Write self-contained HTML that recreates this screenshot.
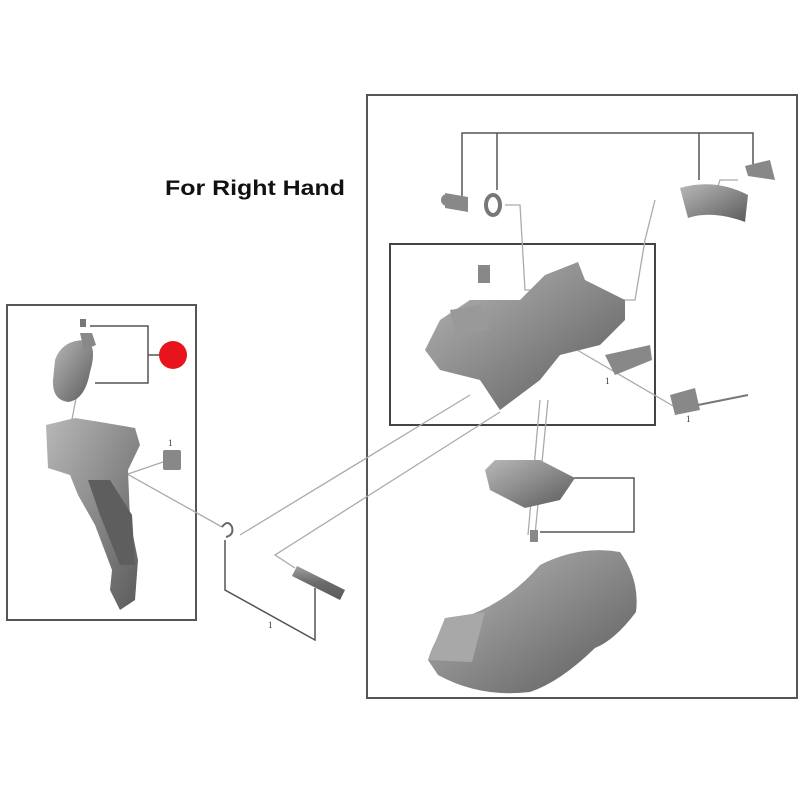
<!DOCTYPE html>
<html><head><meta charset="utf-8"><style>html,body{margin:0;padding:0;background:#fff}svg{display:block}</style></head>
<body>
<svg width="800" height="800" viewBox="0 0 800 800" xmlns="http://www.w3.org/2000/svg">
<defs>
<linearGradient id="g" x1="0" y1="0" x2="1" y2="1"><stop offset="0" stop-color="#b8b8b8"/><stop offset="0.5" stop-color="#8a8a8a"/><stop offset="1" stop-color="#5a5a5a"/></linearGradient>
<linearGradient id="g2" x1="0" y1="0" x2="0" y2="1"><stop offset="0" stop-color="#a0a0a0"/><stop offset="0.5" stop-color="#6a6a6a"/><stop offset="1" stop-color="#5a5a5a"/></linearGradient>
</defs>
<text x="165" y="195" font-family="Liberation Sans, sans-serif" font-weight="bold" font-size="21" fill="#111" textLength="180" lengthAdjust="spacingAndGlyphs">For Right Hand</text>
<rect x="7" y="305" width="189" height="315" fill="none" stroke="#555" stroke-width="2"/>
<rect x="367" y="95" width="430" height="603" fill="none" stroke="#555" stroke-width="2"/>
<rect x="390" y="244" width="265" height="181" fill="none" stroke="#444" stroke-width="2"/>
<g stroke="#555" stroke-width="1.5" fill="none">
<polyline points="90,326 148,326 148,383 95,383"/><line x1="148" y1="355" x2="160" y2="355"/>
<polyline points="462,200 462,133 753,133 753,165"/><line x1="497" y1="133" x2="497" y2="190"/><line x1="699" y1="133" x2="699" y2="180"/>
<polyline points="565,478 634,478 634,532 540,532"/>
<polyline points="225,540 225,590 315,640 315,588"/>
</g>
<circle cx="173" cy="355" r="14" fill="#e8141c"/>
<g stroke="#aaa" stroke-width="1.3" fill="none">
<line x1="120" y1="470" x2="222" y2="527"/><line x1="125" y1="475" x2="163" y2="462"/>
<polyline points="240,535 470,395"/><polyline points="295,568 275,555 500,412"/>
<polyline points="505,205 520,205 525,290 550,290"/>
<polyline points="655,200 645,240 635,300 615,300"/>
<line x1="540" y1="400" x2="528" y2="535"/><line x1="548" y1="400" x2="535" y2="535"/>
<line x1="560" y1="340" x2="680" y2="410"/>
<line x1="88" y1="335" x2="70" y2="430"/>
<polyline points="738,180 720,180 715,195"/>
</g>
<path d="M55,360 Q62,340 85,340 Q98,345 90,372 Q85,400 68,402 Q52,400 53,380Z" fill="url(#g)"/>
<path d="M80,333 L92,333 L96,345 L84,350Z" fill="#888"/>
<rect x="80" y="319" width="6" height="8" fill="#777"/>
<path d="M46,425 L75,418 L100,422 L135,428 L140,445 L128,470 L130,520 L138,560 L135,600 L120,610 L110,590 L112,570 L95,525 L78,495 L70,475 L48,468Z" fill="url(#g)"/>
<path d="M88,480 L110,480 L132,515 L135,565 L120,565 L100,515Z" fill="#5e5e5e"/>
<rect x="163" y="450" width="18" height="20" rx="2" fill="#888"/>
<path d="M222,527 q6,-8 10,0 q2,8 -6,10" fill="none" stroke="#666" stroke-width="2"/>
<path d="M297,566 L345,590 L340,600 L292,576Z" fill="url(#g2)"/>
<path d="M445,193 L468,197 L468,212 L445,208Z" fill="#888"/><circle cx="447" cy="200" r="6" fill="#888"/>
<ellipse cx="493" cy="205" rx="7" ry="10" fill="none" stroke="#777" stroke-width="4"/>
<path d="M680,188 Q715,178 748,195 L745,222 Q712,210 688,218 Z" fill="url(#g)"/>
<path d="M745,166 L770,160 L775,180 L748,176Z" fill="#888"/>
<path d="M425,350 L440,320 L470,300 L520,300 L545,275 L578,262 L585,280 L625,300 L625,320 L600,345 L560,355 L540,380 L520,395 L500,410 L480,380 L440,370 Z" fill="url(#g)"/>
<path d="M450,310 L480,305 L490,330 L455,335Z" fill="#999"/>
<rect x="478" y="265" width="12" height="18" fill="#888"/>
<path d="M605,355 L650,345 L652,360 L615,375Z" fill="#888"/>
<path d="M670,395 L695,388 L700,410 L675,415Z" fill="#888"/><line x1="698" y1="405" x2="748" y2="395" stroke="#777" stroke-width="2"/>
<path d="M485,470 L495,460 L540,460 L575,478 L560,500 L525,508 L490,490Z" fill="url(#g)"/>
<rect x="530" y="530" width="8" height="12" fill="#888"/>
<path d="M428,660 Q440,620 470,615 Q510,600 540,565 Q580,545 620,552 Q640,580 636,612 Q615,640 595,648 Q560,682 530,692 Q480,698 438,675Z" fill="url(#g)"/>
<path d="M428,660 L445,618 L485,612 L472,662 Z" fill="#a8a8a8"/>
<g font-family="Liberation Serif, serif" font-size="9" fill="#333"><text x="268" y="628">1</text><text x="605" y="384">1</text><text x="686" y="422">1</text><text x="168" y="446">1</text></g>
</svg>
</body></html>
